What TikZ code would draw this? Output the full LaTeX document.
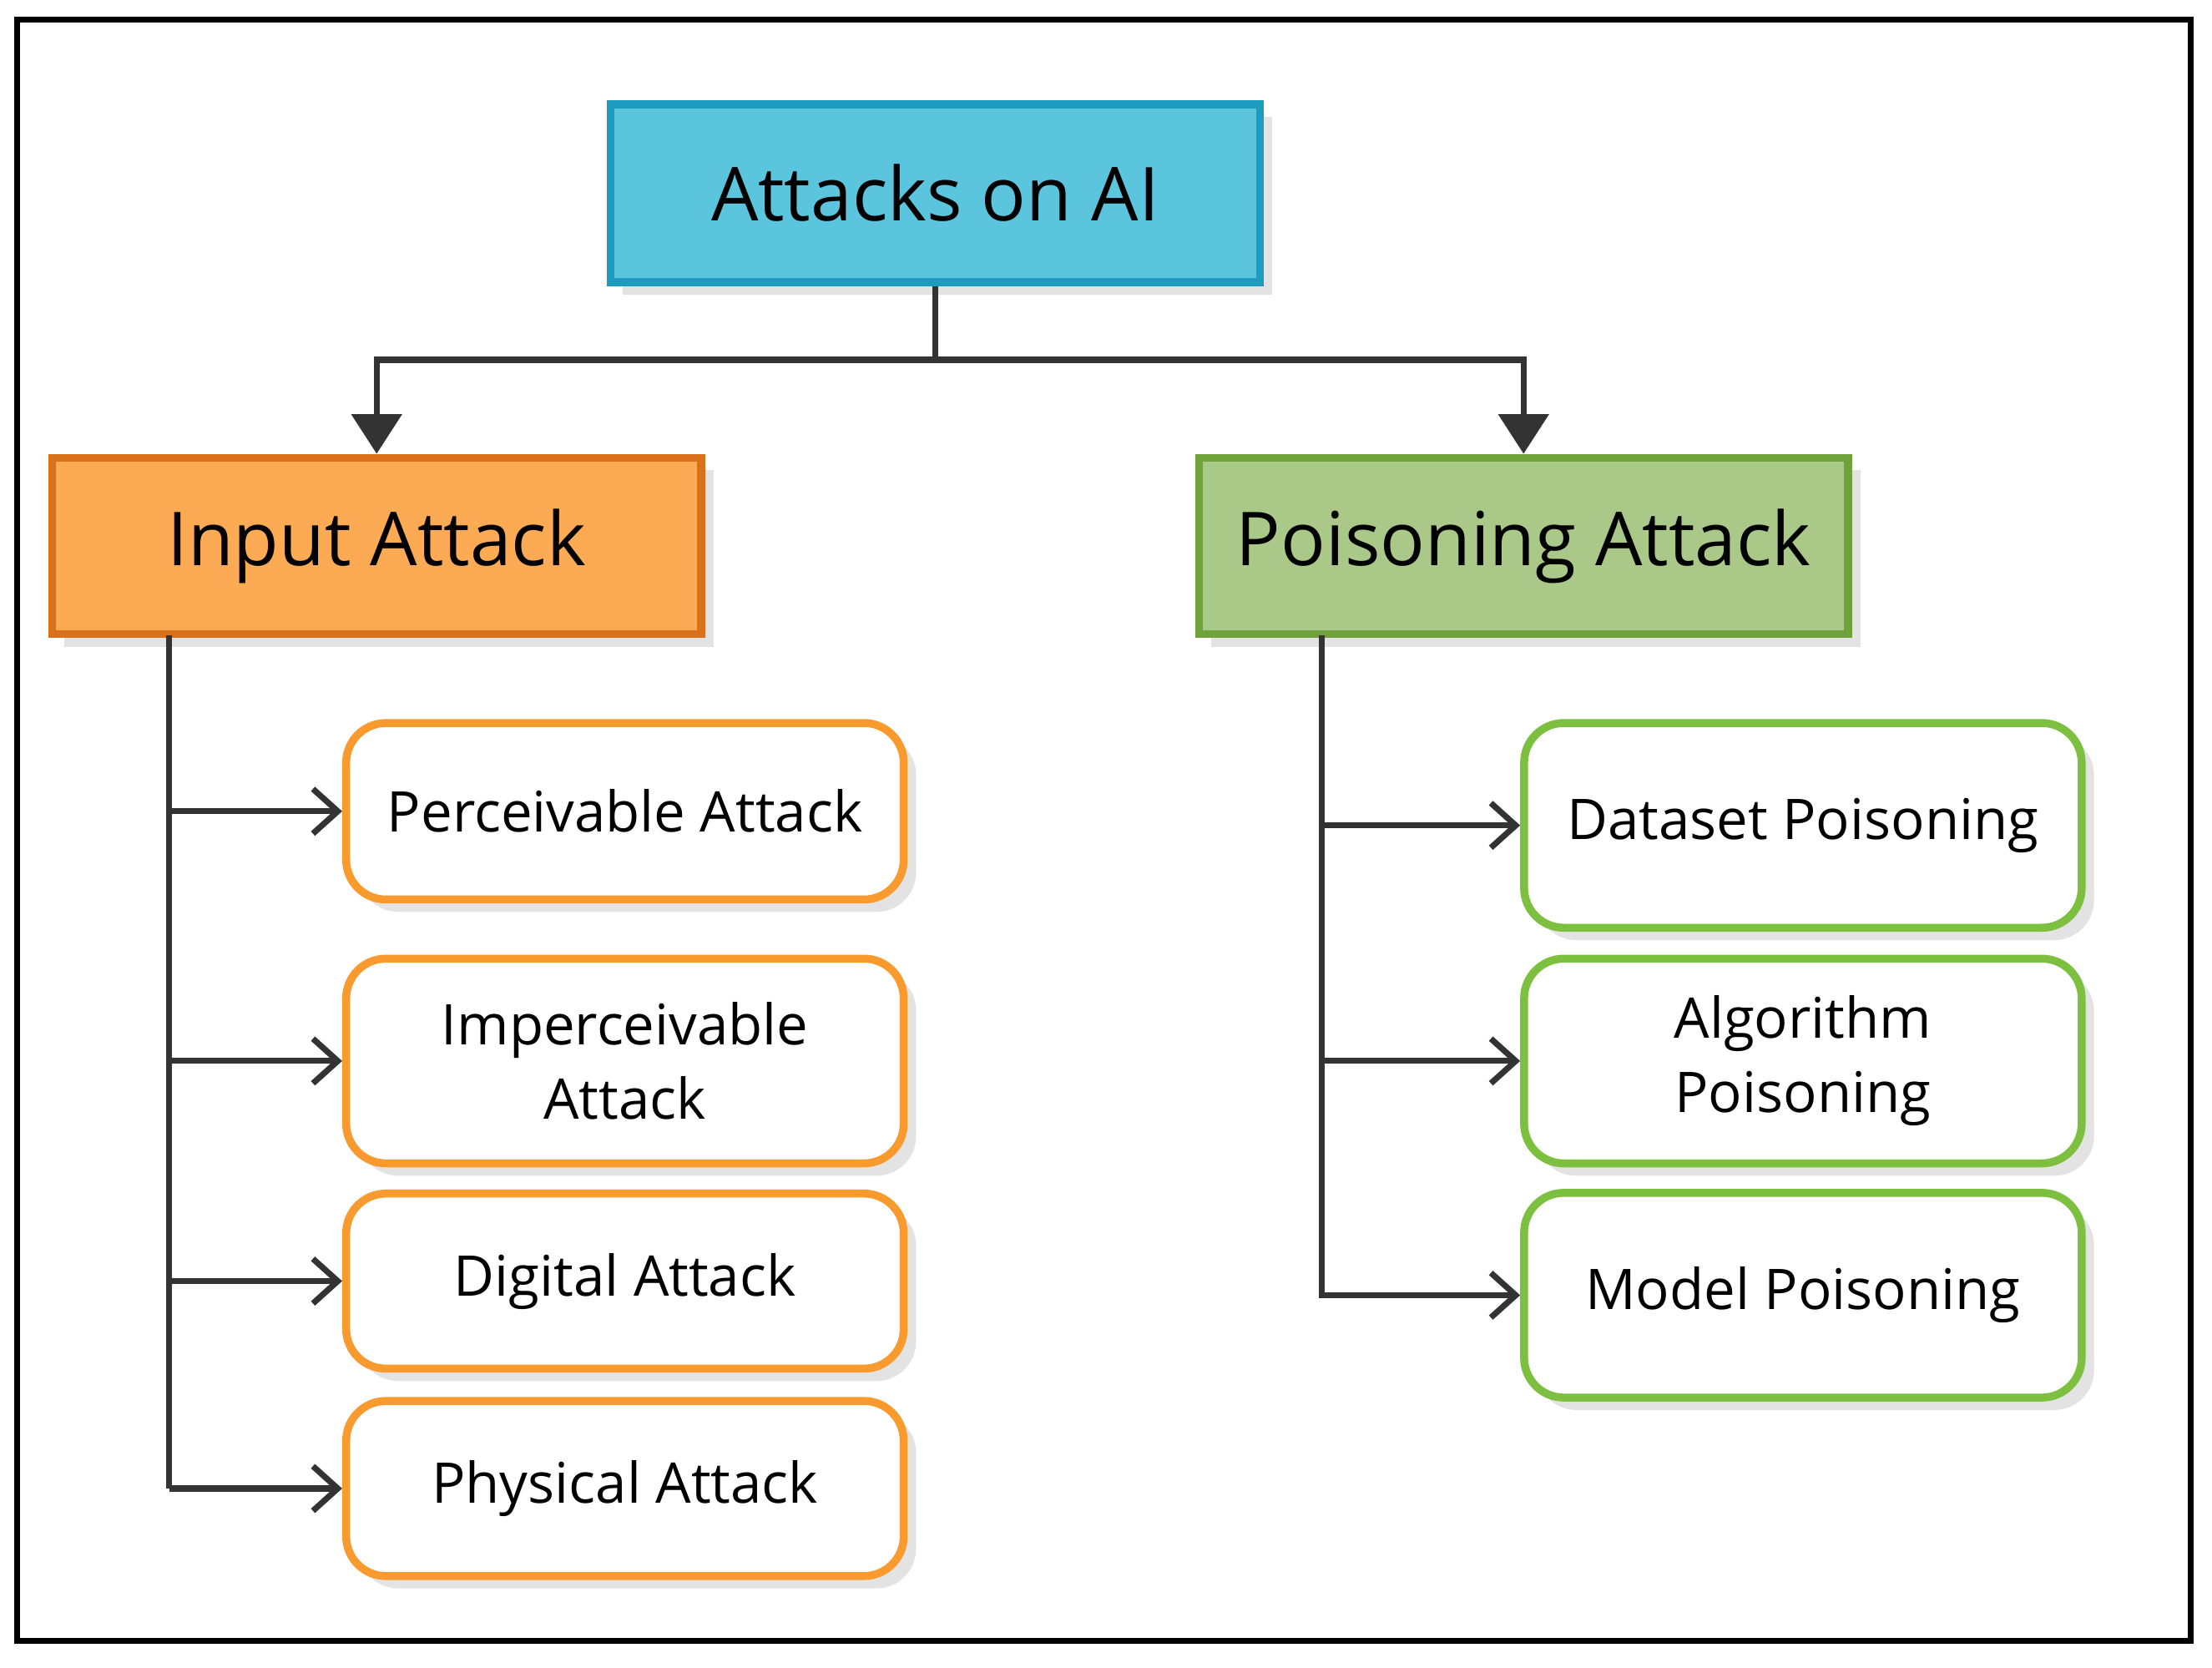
\documentclass[tikz,border=0pt]{standalone}
\usepackage{fontspec}
\setmainfont{Open Sans}
\usetikzlibrary{shadows,arrows.meta}
\definecolor{topf}{HTML}{5BC5DE}\definecolor{topd}{HTML}{1E9CC0}
\definecolor{inf}{HTML}{FDAA55}\definecolor{ind}{HTML}{D9711B}
\definecolor{pof}{HTML}{AAC887}\definecolor{pod}{HTML}{6FA23A}
\definecolor{oc}{HTML}{F89A2E}\definecolor{gc}{HTML}{7DBF3F}
\definecolor{ln}{HTML}{333333}
\tikzset{
 sh/.style={drop shadow={shadow xshift=2.5pt,shadow yshift=-2.5pt,opacity=0.18,fill=black!60}},
 big/.style={sh,draw,line width=1.6pt,minimum width=4.6cm,minimum height=1.25cm,font=\fontsize{15}{18}\selectfont,inner sep=0pt},
 oleaf/.style={sh,draw=oc,fill=white,line width=1.6pt,rounded corners=8pt,minimum width=3.95cm,align=center,font=\fontsize{11.3}{15}\selectfont,inner sep=0pt},
 gleaf/.style={oleaf,draw=gc},
 conn/.style={draw=ln,line width=1.2pt},
 oa/.style={conn,-{Straight Barb[length=5pt,width=9pt]}},
 fa/.style={conn,-{Triangle[length=8pt,width=10pt]}}
}
\begin{document}
\begin{tikzpicture}[x=0.01cm,y=-0.01cm]
\useasboundingbox (0,0) rectangle (1568,1182);
\draw[line width=1.2pt,draw=black] (12,14) rectangle (1553,1163);
\node[big,fill=topf,draw=topd,minimum height=1.26cm] (top) at (663,137) {Attacks on AI};
\node[big,fill=inf,draw=ind] (in) at (267,387) {Input Attack};
\node[big,fill=pof,draw=pod] (po) at (1080,387) {Poisoning Attack};
\node[oleaf,minimum height=1.25cm] (l1) at (443,575) {Perceivable Attack};
\node[oleaf,minimum height=1.45cm] (l2) at (443,752) {Imperceivable\\Attack};
\node[oleaf,minimum height=1.24cm] (l3) at (443,908) {Digital Attack};
\node[oleaf,minimum height=1.24cm] (l4) at (443,1055) {Physical Attack};
\node[gleaf,minimum height=1.45cm] (r1) at (1278,585) {Dataset Poisoning};
\node[gleaf,minimum height=1.45cm] (r2) at (1278,752) {Algorithm\\Poisoning};
\node[gleaf,minimum height=1.45cm] (r3) at (1278,918) {Model Poisoning};
\coordinate (j) at (663,255);
\coordinate (lt) at (120,450);\coordinate (lb) at (120,1055);
\coordinate (rt) at (937,450);\coordinate (rb) at (937,920);
\draw[conn] (top.south) -- (j);
\draw[fa] (j) -| (in.north);
\draw[fa] (j) -| (po.north);
\draw[conn] (lt) -- (lb);
\draw[conn] (rt) -- (rb);
\foreach \n in {l1,l2,l3,l4}{\draw[oa] (lt|-\n.west) -- (\n.west);}
\foreach \n in {r1,r2,r3}{\draw[oa] (rt|-\n.west) -- (\n.west);}
\end{tikzpicture}
\end{document}
